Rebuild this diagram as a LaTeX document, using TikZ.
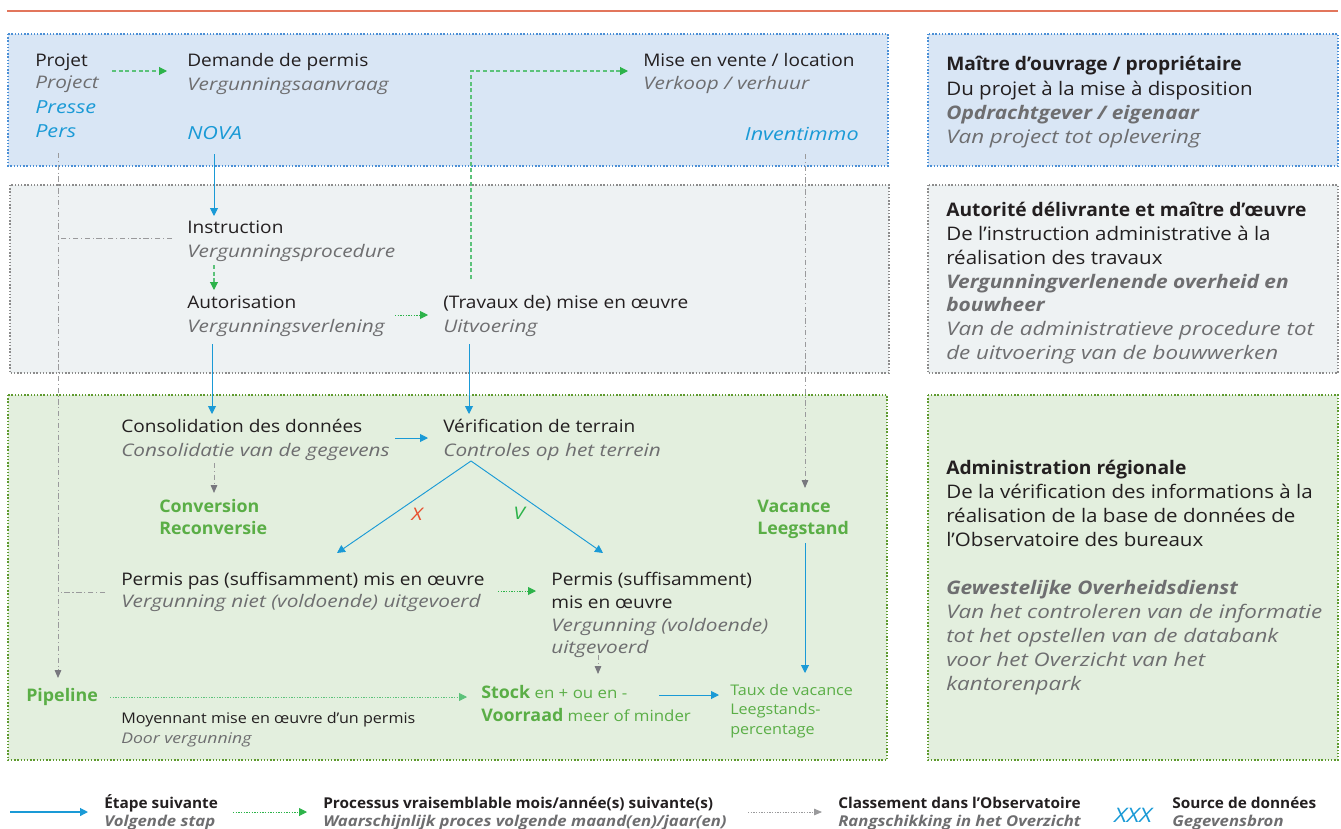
\documentclass[tikz,border=0pt]{standalone}
\usepackage{fontspec}
\setmainfont{Open Sans}[
  UprightFeatures={FakeStretch=1.1},
  ItalicFeatures={FakeStretch=1.2},
  BoldFeatures={FakeStretch=1.03},
  BoldItalicFeatures={FakeStretch=1.12}]
\usetikzlibrary{arrows.meta}

\definecolor{ink}{HTML}{231F20}
\definecolor{nlgray}{HTML}{6E6E70}
\definecolor{srcblue}{HTML}{1A9AD6}
\definecolor{catgreen}{HTML}{5AAE46}
\definecolor{flowblue}{HTML}{1A9AD6}
\definecolor{flowgreen}{HTML}{2DB34A}
\definecolor{lightgreen}{HTML}{5CC27A}
\definecolor{clsgray}{HTML}{9A9A9C}
\definecolor{tipgray}{HTML}{78787E}
\definecolor{xred}{HTML}{E8502E}
\definecolor{topline}{HTML}{E2765C}
\definecolor{bandblue}{HTML}{D9E6F5}
\definecolor{edgeblue}{HTML}{4A8FD6}
\definecolor{bandgray}{HTML}{EEF2F3}
\definecolor{edgegray}{HTML}{8C8C8C}
\definecolor{bandgreen}{HTML}{E3EFDE}
\definecolor{edgegreen}{HTML}{5E9A2E}

\tikzset{
  txt/.style={anchor=base west, inner sep=0pt, text=ink, font=\fontsize{13}{15}\selectfont},
  nl/.style={txt, text=nlgray, font=\fontsize{13}{15}\selectfont\itshape},
  srcname/.style={txt, text=srcblue, font=\fontsize{13.5}{15}\selectfont\itshape},
  catname/.style={txt, text=catgreen, font=\fontsize{13}{15}\selectfont\bfseries},
  rtxt/.style={txt, font=\fontsize{14}{16}\selectfont},
  rnl/.style={txt, text=nlgray, font=\fontsize{14}{16}\selectfont\itshape},
  roletitle/.style={txt, font=\fontsize{14}{16}\selectfont\bfseries},
  rolenl/.style={txt, text=nlgray, font=\fontsize{14}{16}\selectfont\bfseries\itshape},
  smalltxt/.style={txt, font=\fontsize{11}{13}\selectfont},
  smallnl/.style={nl, font=\fontsize{11}{13}\selectfont\itshape},
  smallgreen/.style={txt, text=catgreen, font=\fontsize{11}{13}\selectfont},
  legtitle/.style={txt, font=\fontsize{11.2}{13}\selectfont\bfseries},
  legnl/.style={txt, text=nlgray, font=\fontsize{11.2}{13}\selectfont\bfseries\itshape},
  tipsize/.style={-{Triangle[length=6pt,width=6pt]}},
  nextstep/.style={draw=flowblue, line width=0.7pt, tipsize},
  likely/.style={draw=flowgreen, line width=0.7pt, dash pattern=on 1pt off 1pt, tipsize},
  likelydash/.style={draw=lightgreen, line width=0.8pt, dash pattern=on 3pt off 2pt, -{Triangle[length=6pt,width=6pt,color=flowgreen]}},
  classify/.style={draw=clsgray, line width=0.6pt, dash pattern=on 4pt off 2pt on 0.8pt off 2pt, -{Triangle[length=6pt,width=5pt,color=tipgray]}},
  classline/.style={draw=clsgray, line width=0.6pt, dash pattern=on 4pt off 2pt on 0.8pt off 2pt},
  bandedge/.style={line width=0.9pt, dash pattern=on 1.1pt off 1.3pt},
}

\begin{document}
\begin{tikzpicture}[x=0.75pt,y=-0.75pt]
\useasboundingbox (0,0) rectangle (1341,828);

% rule along the top
\draw[topline, line width=2pt] (7,11) -- (1338,11);

% the three bands and their role boxes
\fill[bandblue] (8,34) rectangle (888,166);
\draw[bandedge, edgeblue] (8,34) rectangle (888,166);
\fill[bandblue] (928,34) rectangle (1338,166);
\draw[bandedge, edgeblue] (928,34) rectangle (1338,166);

\fill[bandgray] (10,185) rectangle (889,373);
\draw[bandedge, edgegray] (10,185) rectangle (889,373);
\fill[bandgray] (928,185) rectangle (1338,373);
\draw[bandedge, edgegray] (928,185) rectangle (1338,373);

\fill[bandgreen] (8,395) rectangle (887,760);
\draw[bandedge, edgegreen] (8,395) rectangle (887,760);
\fill[bandgreen] (928,395) rectangle (1338,760);
\draw[bandedge, edgegreen] (928,395) rectangle (1338,760);

% ---- band 1: owner ----
\node[txt] (projet) at (35,66) {Projet};
\node[nl] (projetnl) at (35,88) {Project};
\node[srcname] (presse) at (35,113) {Presse};
\node[srcname] (pers) at (35,137) {Pers};

\node[txt] (demande) at (187,66) {Demande de permis};
\node[nl] (demandenl) at (187,90) {Vergunningsaanvraag};
\node[srcname] (nova) at (187,139) {NOVA};

\node[txt] (vente) at (643,66) {Mise en vente / location};
\node[nl] (ventenl) at (643,89) {Verkoop / verhuur};
\node[srcname, anchor=base east] (inventimmo) at (859,140) {Inventimmo};

% ---- band 2: authority ----
\node[txt] (instruction) at (187,233) {Instruction};
\node[nl] (instructionnl) at (187,257) {Vergunningsprocedure};
\node[txt] (autorisation) at (187,308) {Autorisation};
\node[nl] (autorisationnl) at (187,332) {Vergunningsverlening};
\node[txt] (travaux) at (443,308) {(Travaux de) mise en œuvre};
\node[nl] (travauxnl) at (443,332) {Uitvoering};

% ---- band 3: administration ----
\node[txt] (conso) at (121,432) {Consolidation des données};
\node[nl] (consonl) at (121,456) {Consolidatie van de gegevens};
\node[txt] (verif) at (443,432) {Vérification de terrain};
\node[nl] (verifnl) at (443,456) {Controles op het terrein};

\node[catname] (conversion) at (159,512) {Conversion};
\node[catname] (reconversie) at (159,534) {Reconversie};
\node[catname] (vacance) at (757,512) {Vacance};
\node[catname] (leegstand) at (757,534) {Leegstand};

\node[text=xred, font=\fontsize{13}{15}\selectfont\itshape, inner sep=0pt] (nolabel) at (417,514) {X};
\node[text=flowgreen, font=\fontsize{13}{15}\selectfont\itshape, inner sep=0pt] (yeslabel) at (519,513) {V};

\node[txt] (pasmis) at (121,585) {Permis pas (suffisamment) mis en œuvre};
\node[nl] (pasmisnl) at (121,607) {Vergunning niet (voldoende) uitgevoerd};
\node[txt] (mis) at (551,585) {Permis (suffisamment)};
\node[txt] (mis2) at (551,608) {mis en œuvre};
\node[nl] (misnl) at (551,631) {Vergunning (voldoende)};
\node[nl] (misnl2) at (551,653) {uitgevoerd};

\node[catname] (pipeline) at (26,701) {Pipeline};
\node[smalltxt] (moyennant) at (121,723) {Moyennant mise en œuvre d’un permis};
\node[smallnl] (moyennantnl) at (121,743) {Door vergunning};

\node[smallgreen, font=\fontsize{11.5}{14}\selectfont] (stock) at (481,698) {\textbf{\fontsize{13}{15}\selectfont Stock} en + ou en -};
\node[smallgreen, font=\fontsize{11.5}{14}\selectfont] (voorraad) at (481,721) {\textbf{\fontsize{13}{15}\selectfont Voorraad} meer of minder};

\node[smallgreen] (taux) at (730,695) {Taux de vacance};
\node[smallgreen] (taux2) at (730,714) {Leegstands-};
\node[smallgreen] (taux3) at (730,734) {percentage};

% ---- role boxes ----
\node[roletitle] (r1a) at (946,70) {Maître d’ouvrage / propriétaire};
\node[rtxt] (r1b) at (946,95) {Du projet à la mise à disposition};
\node[rolenl] (r1c) at (946,119) {Opdrachtgever / eigenaar};
\node[rnl] (r1d) at (946,143) {Van project tot oplevering};

\node[roletitle] (r2a) at (946,216) {Autorité délivrante et maître d’œuvre};
\node[rtxt] (r2b) at (946,240) {De l’instruction administrative à la};
\node[rtxt] (r2c) at (946,264) {réalisation des travaux};
\node[rolenl] (r2d) at (946,288) {Vergunningverlenende overheid en};
\node[rolenl] (r2e) at (946,311) {bouwheer};
\node[rnl] (r2f) at (946,335) {Van de administratieve procedure tot};
\node[rnl] (r2g) at (946,359) {de uitvoering van de bouwwerken};

\node[roletitle] (r3a) at (946,474) {Administration régionale};
\node[rtxt] (r3b) at (946,498) {De la vérification des informations à la};
\node[rtxt] (r3c) at (946,522) {réalisation de la base de données de};
\node[rtxt] (r3d) at (946,546) {l’Observatoire des bureaux};
\node[rolenl] (r3e) at (946,594) {Gewestelijke Overheidsdienst};
\node[rnl] (r3f) at (946,618) {Van het controleren van de informatie};
\node[rnl] (r3g) at (946,642) {tot het opstellen van de databank};
\node[rnl] (r3h) at (946,666) {voor het Overzicht van het};
\node[rnl] (r3i) at (946,690) {kantorenpark};

% ---- connector end points ----
\coordinate (projet-out) at (112,71);
\coordinate (demande-in) at (167,71);
\coordinate (travaux-up) at (471,279);
\coordinate (corner) at (471,71);
\coordinate (vente-in) at (628,71);
\coordinate (nova-out) at (214,154);
\coordinate (instr-in) at (214,216);
\coordinate (instr-out) at (214,265);
\coordinate (autor-in) at (214,290);
\coordinate (autor-right) at (395,315);
\coordinate (travaux-in) at (428,315);
\coordinate (autor-down) at (212,344);
\coordinate (conso-in) at (212,414);
\coordinate (travaux-down) at (469,344);
\coordinate (verif-in) at (469,414);
\coordinate (presse-down) at (58,153);
\coordinate (pipeline-in) at (58,678);
\coordinate (instr-left) at (172,238);
\coordinate (track-a) at (61,238);
\coordinate (invent-down) at (805,154);
\coordinate (vacance-in) at (805,488);
\coordinate (conso-right) at (395,438);
\coordinate (verif-left) at (428,438);
\coordinate (conso-down) at (214,463);
\coordinate (conversion-in) at (214,493);
\coordinate (verif-fork) at (471,461);
\coordinate (pasmis-in) at (337,553);
\coordinate (mis-in) at (603,553);
\coordinate (vacance-down) at (805,543);
\coordinate (taux-in) at (805,673);
\coordinate (pasmis-left) at (105,592);
\coordinate (track-b) at (61,592);
\coordinate (pasmis-right) at (498,591);
\coordinate (mis-left) at (536,591);
\coordinate (mis-down) at (598,655);
\coordinate (stock-up) at (598,674);
\coordinate (pipeline-right) at (110,697);
\coordinate (stock-left) at (467,697);
\coordinate (stock-right) at (659,695);
\coordinate (taux-left) at (719,695);

% ---- connectors ----
\draw[likelydash] (projet-out) -- (demande-in);
\draw[likelydash] (travaux-up) -- (corner) -- (vente-in);
\draw[nextstep] (nova-out) -- (instr-in);
\draw[likelydash] (instr-out) -- (autor-in);
\draw[likely] (autor-right) -- (travaux-in);
\draw[nextstep] (autor-down) -- (conso-in);
\draw[nextstep] (travaux-down) -- (verif-in);
\draw[classify] (presse-down) -- (pipeline-in);
\draw[classline] (instr-left) -- (track-a);
\draw[classify] (invent-down) -- (vacance-in);
\draw[nextstep] (conso-right) -- (verif-left);
\draw[classify] (conso-down) -- (conversion-in);
\draw[nextstep] (verif-fork) -- (pasmis-in);
\draw[nextstep] (verif-fork) -- (mis-in);
\draw[nextstep] (vacance-down) -- (taux-in);
\draw[classline] (pasmis-left) -- (track-b);
\draw[likely] (pasmis-right) -- (mis-left);
\draw[classify] (mis-down) -- (stock-up);
\draw[likely, draw=lightgreen, line width=0.6pt] (pipeline-right) -- (stock-left);
\draw[nextstep] (stock-right) -- (taux-left);

% ---- legend ----
\coordinate (leg1a) at (10,812);
\coordinate (leg1b) at (88,812);
\coordinate (leg2a) at (233,812);
\coordinate (leg2b) at (307,812);
\coordinate (leg3a) at (748,812);
\coordinate (leg3b) at (822,812);
\draw[nextstep, line width=0.9pt] (leg1a) -- (leg1b);
\draw[likely] (leg2a) -- (leg2b);
\draw[draw=clsgray, line width=0.6pt, dash pattern=on 1pt off 1pt, -{Triangle[length=6pt,width=5pt,color=clsgray]}] (leg3a) -- (leg3b);

\node[legtitle] (leg1t) at (104,808) {Étape suivante};
\node[legnl] (leg1n) at (104,826) {Volgende stap};
\node[legtitle] (leg2t) at (323,808) {Processus vraisemblable mois/année(s) suivante(s)};
\node[legnl] (leg2n) at (323,826) {Waarschijnlijk proces volgende maand(en)/jaar(en)};
\node[legtitle] (leg3t) at (838,808) {Classement dans l’Observatoire};
\node[legnl] (leg3n) at (838,826) {Rangschikking in het Overzicht};
\node[txt, text=srcblue, font=\fontsize{15}{17}\selectfont\itshape] (leg4x) at (1114,822) {XXX};
\node[legtitle] (leg4t) at (1172,808) {Source de données};
\node[legnl] (leg4n) at (1172,826) {Gegevensbron};
\end{tikzpicture}
\end{document}
